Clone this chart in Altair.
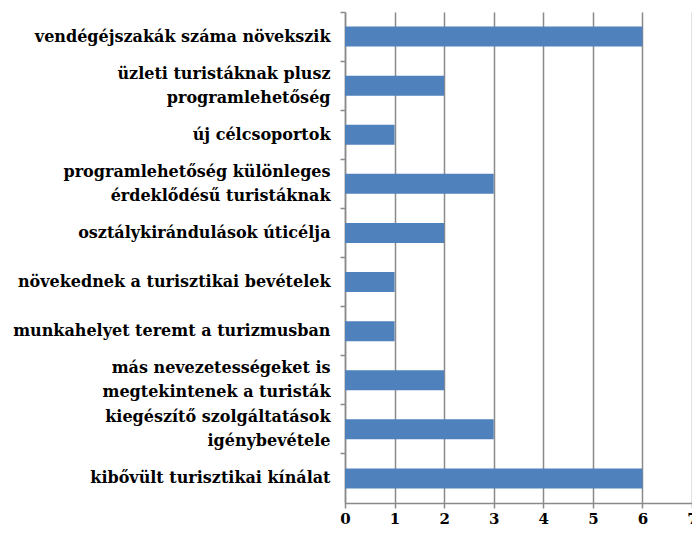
import altair as alt
import pandas as pd

categories = [
    "vendégéjszakák száma növekszik",
    "üzleti turistáknak plusz|programlehetőség",
    "új célcsoportok",
    "programlehetőség különleges|érdeklődésű turistáknak",
    "osztálykirándulások úticélja",
    "növekednek a turisztikai bevételek",
    "munkahelyet teremt a turizmusban",
    "más nevezetességeket is |megtekintenek a turisták",
    "kiegészítő szolgáltatások|igénybevétele",
    "kibővült turisztikai kínálat",
]
values = [6, 2, 1, 3, 2, 1, 1, 2, 3, 6]
x_ticks = [0, 1, 2, 3, 4, 5, 6, 7]

df = pd.DataFrame({"cat": categories, "val": values})

FONT = "DejaVu Serif"
GRID = "#8a8a8a"

yscale = alt.Scale(paddingInner=0, paddingOuter=0)

bars = alt.Chart(df).mark_bar(size=20, color="#4F81BD").encode(
    x=alt.X("val:Q",
            scale=alt.Scale(domain=[0, 7], nice=False),
            axis=alt.Axis(values=x_ticks, title=None, grid=True, gridColor=GRID,
                          gridWidth=1.5, domainColor=GRID, domainWidth=1.5,
                          tickColor=GRID, tickSize=5, tickWidth=1.5,
                          labelFont=FONT, labelFontWeight="bold", labelFontSize=15,
                          labelColor="#000", labelPadding=3, format="d",
                          labelFlush=False)),
    y=alt.Y("cat:N", sort=None, scale=yscale,
            axis=alt.Axis(title=None, labels=False, bandPosition=0, orient="left",
                          domainColor=GRID, domainWidth=1.5, tickColor=GRID,
                          tickSize=5, tickWidth=1.5, grid=False)),
)

labels = alt.Chart(df).mark_bar(opacity=0).encode(
    y=alt.Y("cat:N", sort=None, scale=yscale,
            axis=alt.Axis(title=None, orient="left", ticks=False, domain=False,
                          labelPadding=15, labelExpr="split(datum.label, '|')",
                          labelOffset={"condition": {"test": "indexof(datum.value, '|') >= 0",
                                                     "value": -12}, "value": 0},
                          labelFont=FONT, labelFontWeight="bold", labelFontSize=16,
                          labelColor="#000", labelLineHeight=24, labelLimit=400,
                          grid=False)),
)

chart = alt.layer(bars, labels).resolve_axis(y="independent").properties(
    width=347, height=491,
    autosize=alt.AutoSizeParams(type="none"),
    padding={"left": 337, "top": 4, "right": 0, "bottom": 26},
).configure_view(stroke=None)

chart.save("out.html", embed_options={"renderer": "svg", "actions": False})
